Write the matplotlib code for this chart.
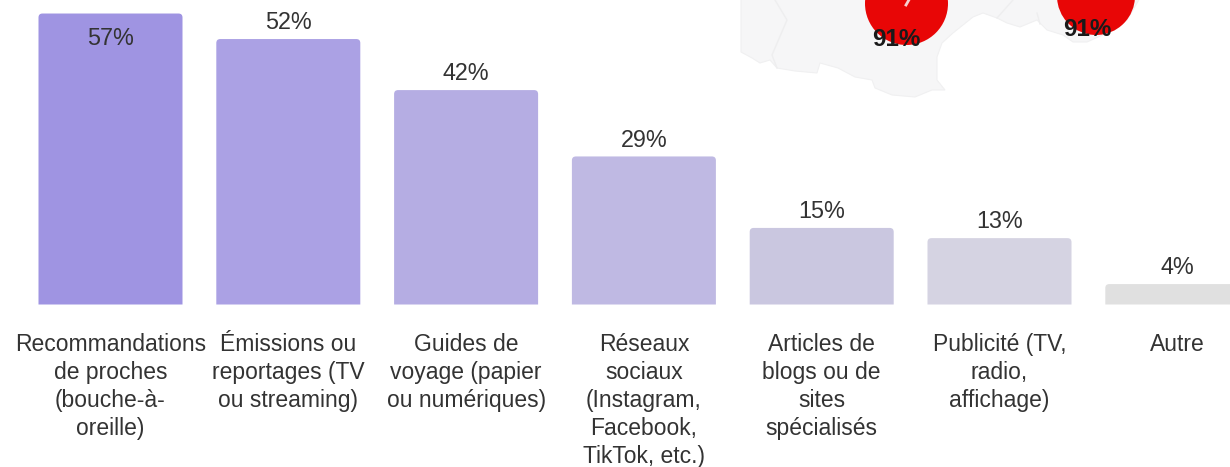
import matplotlib
matplotlib.use("Agg")
import matplotlib.pyplot as plt
from matplotlib.patches import Circle, PathPatch, Polygon
from matplotlib.path import Path

plt.rcParams["font.family"] = ["Liberation Sans", "DejaVu Sans"]

CATEGORIES = [
    "Recommandations\nde proches\n(bouche-à-\noreille)",
    "Émissions ou\nreportages (TV\nou streaming)",
    "Guides de\nvoyage (papier\nou numériques)",
    "Réseaux\nsociaux\n(Instagram,\nFacebook,\nTikTok, etc.)",
    "Articles de\nblogs ou de\nsites\nspécialisés",
    "Publicité (TV,\nradio,\naffichage)",
    "Autre",
]
VALUES = [57, 52, 42, 29, 15, 13, 4]
COLORS = ["#9f94e2", "#aba1e4", "#b5ade3", "#bfb9e3", "#cac7e0", "#d5d3e2", "#e0e0e0"]

# map fragment in the top right corner, pixel coordinates of the picture
MAP_OUTLINE = [(741, -2), (741, 52), (752, 58), (760, 63), (770, 60), (777, 68), (795, 71),
               (817, 73), (820, 63), (838, 68), (855, 77), (872, 80), (875, 88), (892, 95),
               (915, 97), (932, 90), (945, 90), (937, 80), (937, 57), (942, 43), (953, 33),
               (973, 17), (983, 13), (997, 18), (1007, 23), (1020, 27), (1037, 20),
               (1047, 30), (1063, 35), (1073, 42), (1087, 42), (1107, 33), (1127, 20),
               (1140, -2)]
MAP_BORDERS = [
    [(775, 0), (787, 20), (772, 55), (777, 68)],
    [(1013, 0), (997, 18)],
    [(1037, 13), (1040, 24)],
]
MAP_BUBBLES = [(906.5, 3.5, 41.5), (1096, -4, 39)]
MAP_LABELS = [(896, 39, "91%"), (1087, 29, "91%")]

W, H = 1230, 467
BASE_PX = 304.5
PX_PER_PCT = 5.105
FIRST_PX = 110.5
STEP_PX = 177.8
BAR_W = 144 / STEP_PX


def rounded_top(x, top, width, rx, ry):
    left, right = x - width / 2, x + width / 2
    ry = min(ry, top)
    verts = [(left, 0), (left, top - ry), (left, top), (left + rx, top),
             (right - rx, top), (right, top), (right, top - ry), (right, 0), (left, 0)]
    codes = [Path.MOVETO, Path.LINETO, Path.CURVE3, Path.CURVE3,
             Path.LINETO, Path.CURVE3, Path.CURVE3, Path.LINETO, Path.CLOSEPOLY]
    return Path(verts, codes)


fig = plt.figure(figsize=(W / 100, H / 100), dpi=100)

# pixel layer for the map behind the chart
bg = fig.add_axes([0, 0, 1, 1])
bg.set_xlim(0, W)
bg.set_ylim(H, 0)
bg.axis("off")
bg.add_patch(Polygon(MAP_OUTLINE, closed=True, fc="#f6f6f7", ec="#f0f0f1", lw=0.8))
for border in MAP_BORDERS:
    bg.plot(*zip(*border), color="#eeeeef", lw=1)
for cx, cy, r in MAP_BUBBLES:
    bg.add_patch(Circle((cx, cy), r, fc="#e80606", ec="none"))
bg.plot([906, 910], [5, -2], color="#f6d0d0", lw=2)
for x, y, label in MAP_LABELS:
    bg.text(x, y, label, ha="center", va="center", fontsize=17.5, fontweight="bold", color="#1a1a1a")

ax = fig.add_axes([0, 1 - BASE_PX / H, 1, BASE_PX / H])
ax.patch.set_alpha(0)
ax.set_xlim(-FIRST_PX / STEP_PX, (W - FIRST_PX) / STEP_PX)
ax.set_ylim(0, BASE_PX / PX_PER_PCT)
ax.axis("off")

for i, (cat, val, col) in enumerate(zip(CATEGORIES, VALUES, COLORS)):
    ax.add_patch(PathPatch(rounded_top(i, val, BAR_W, 4 / STEP_PX, 4 / PX_PER_PCT), fc=col, ec="none"))
    # first label does not fit above the bar
    if val == max(VALUES):
        ax.annotate(f"{val}%", (i, val), xytext=(0, -9.6), textcoords="offset points",
                    ha="center", va="top", fontsize=16.8, color="#333333")
    else:
        ax.annotate(f"{val}%", (i, val), xytext=(0, 3.4), textcoords="offset points",
                    ha="center", va="bottom", fontsize=16.8, color="#333333", annotation_clip=False)
    ax.annotate(cat, (i, 0), xytext=(0, -20.2), textcoords="offset points",
                ha="center", va="top", fontsize=16.5, color="#333333",
                linespacing=1.29, annotation_clip=False)

fig.savefig("out.png", dpi=100)
